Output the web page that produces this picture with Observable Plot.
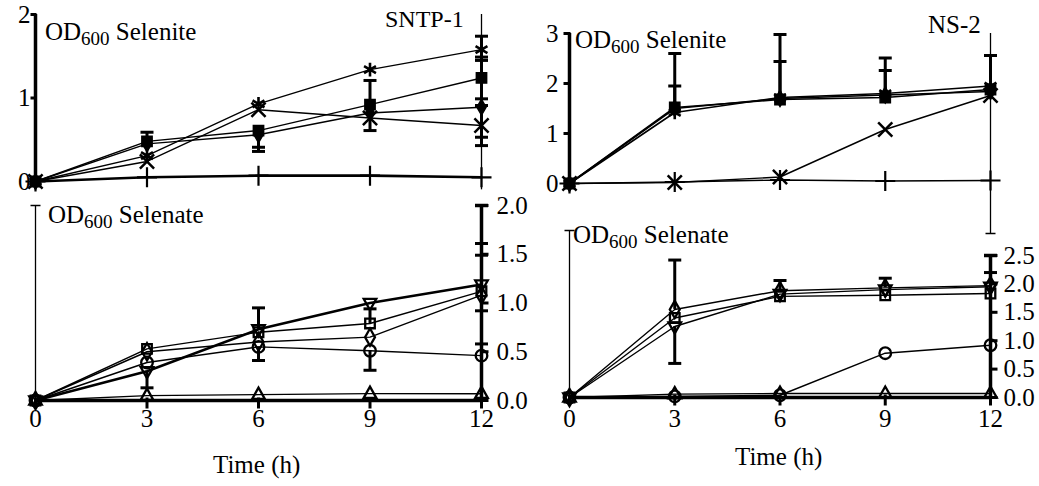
<!DOCTYPE html>
<html><head><meta charset="utf-8">
<script src="https://cdn.jsdelivr.net/npm/d3@7"></script>
<script src="https://cdn.jsdelivr.net/npm/@observablehq/plot@0.6"></script>
<style>
html,body{margin:0;padding:0;background:#fff;}
#wrap{position:relative;width:1039px;height:486px;overflow:hidden;font-family:'Liberation Serif','Times New Roman',serif;color:#000;background:#fff;}
#wrap svg{position:absolute;left:0;top:0;}
.lbl{position:absolute;font-size:25px;line-height:1;white-space:nowrap;}
.lbl sub{font-size:19px;vertical-align:baseline;position:relative;top:5px;}
</style></head><body>
<div id="wrap">
  <div class="lbl" style="left:45px;top:19px">OD<sub>600</sub> Selenite</div>
  <div class="lbl" style="left:48px;top:202px">OD<sub>600</sub> Selenate</div>
  <div class="lbl" style="left:575px;top:27px">OD<sub>600</sub> Selenite</div>
  <div class="lbl" style="left:573px;top:222px">OD<sub>600</sub> Selenate</div>
  <div class="lbl" style="left:385px;top:7px;font-size:24px">SNTP-1</div>
  <div class="lbl" style="left:928px;top:12px">NS-2</div>
  <div class="lbl" style="left:213px;top:452px">Time (h)</div>
  <div class="lbl" style="left:735px;top:444px">Time (h)</div>
</div>
<script>
// ---------- data ----------
const time = [0, 3, 6, 9, 12];
const xTickLabels = ["0", "3", "6", "9", "12"];

// SNTP-1, selenite
const sntpSeleniteAsterisk = [0, 0.31, 0.93, 1.34, 1.58];
const sntpSeleniteSquare   = [0, 0.48, 0.61, 0.92, 1.24];
const sntpSeleniteTimes    = [0, 0.24, 0.86, 0.76, 0.67];
const sntpSeleniteDiamond  = [0, 0.45, 0.56, 0.82, 0.89];
const sntpSelenitePlus     = [0, 0.05, 0.07, 0.07, 0.05];
// error bars: [time, from, to] (cap at "to")
const sntpSeleniteBars = [[3,0.48,0.59],[6,0.61,0.41],[6,0.56,0.36],[9,0.92,1.21],[9,0.76,0.61],
  [12,1.58,1.74],[12,1.58,1.45],[12,1.24,1.49],[12,1.24,0.99],[12,0.67,0.91],[12,0.89,0.53],[12,0.67,0.43]];
const sntpSeleniteThin = [[12, -0.1, 2.0]];
const sntpSeleniteYTicks = [0, 1, 2];
const sntpSeleniteYLabels = ["0", "1", "2"];

// SNTP-1, selenate
const sntpSelenateDownTri = [0, 0.30, 0.73, 1.00, 1.19];
const sntpSelenateSquare  = [0, 0.53, 0.70, 0.79, 1.12];
const sntpSelenateDiamond = [0, 0.50, 0.60, 0.65, 1.08];
const sntpSelenateCircle  = [0, 0.39, 0.55, 0.51, 0.46];
const sntpSelenateUpTri   = [0, 0.05, 0.06, 0.07, 0.07];
const sntpSelenateBars = [[3,0.30,0.13],[6,0.73,0.95],[6,0.55,0.41],[9,0.79,0.94],[9,0.51,0.31],
  [12,1.19,1.61],[12,1.12,1.49],[12,1.08,0.92],[12,0.46,0.58]];
const sntpSelenateThin = [[0, 0, 2.0]];
const sntpSelenateYTicks = [0, 0.5, 1, 1.5, 2];
const sntpSelenateYLabels = ["0.0", "0.5", "1.0", "1.5", "2.0"];

// NS-2, selenite
const nsSeleniteSquare   = [0, 1.52, 1.68, 1.72, 1.88];
const nsSeleniteAsterisk = [0, 1.42, 1.72, 1.80, 1.95];
const nsSeleniteDiamond  = [0, 1.50, 1.70, 1.77, 1.84];
const nsSeleniteTimes    = [0, 0.02, 0.13, 1.08, 1.76];
const nsSelenitePlus     = [0, 0.03, 0.07, 0.05, 0.06];
const nsSeleniteBars = [[3,1.52,2.60],[3,1.42,1.95],[6,1.72,2.98],[6,1.68,2.44],[9,1.80,2.51],[9,1.72,2.26],[12,1.95,2.56]];
const nsSeleniteThin = [[12, 3.0, -1.0]];
const nsSeleniteYTicks = [0, 1, 2, 3];
const nsSeleniteYLabels = ["0", "1", "2", "3"];

// NS-2, selenate
const nsSelenateDiamond = [0, 1.55, 1.88, 1.93, 1.97];
const nsSelenateSquare  = [0, 1.40, 1.78, 1.80, 1.83];
const nsSelenateDownTri = [0, 1.25, 1.82, 1.90, 1.95];
const nsSelenateCircle  = [0, 0.02, 0.04, 0.78, 0.92];
const nsSelenateUpTri   = [0, 0.06, 0.07, 0.07, 0.07];
const nsSelenateBars = [[3,1.55,2.42],[3,1.25,0.60],[6,1.88,2.06],[9,1.93,2.10],[12,1.97,2.20]];
const nsSelenateThin = [[0, 0, 2.94]];
const nsSelenateYTicks = [0, 0.5, 1, 1.5, 2, 2.5];
const nsSelenateYLabels = ["0.0", "0.5", "1.0", "1.5", "2.0", "2.5"];

// ---------- symbols ----------
const sym = f => ({draw(c, size) { const r = Math.sqrt(size / Math.PI); f(c, r); }});
const capSym = sym((c, r) => { c.moveTo(-r, 0); c.lineTo(r, 0); });
const tickLeftSym = sym((c, r) => { c.moveTo(1, 0); c.lineTo(-r, 0); });
const tickRightSym = sym((c, r) => { c.moveTo(-1, 0); c.lineTo(r, 0); });
const tickDownSym = sym((c, r) => { c.moveTo(0, -3); c.lineTo(0, r); });
const downTriSym = sym((c, r) => { c.moveTo(0, r); c.lineTo(-r * 0.9, -r * 0.6); c.lineTo(r * 0.9, -r * 0.6); c.closePath(); });
const upTriSym = sym((c, r) => { c.moveTo(0, -r); c.lineTo(-r * 0.9, r * 0.6); c.lineTo(r * 0.9, r * 0.6); c.closePath(); });

const markerStyle = {
  asterisk: {symbol: "asterisk", r: 6.5, stroke: "black", strokeWidth: 2.6, fill: "none"},
  squareFilled: {symbol: "square", r: 5.8, fill: "black", stroke: "black"},
  times: {symbol: "times", r: 6.5, stroke: "black", strokeWidth: 2.5, fill: "none"},
  diamondFilled: {symbol: "diamond", r: 4.8, fill: "black", stroke: "black"},
  plus: {symbol: "plus", r: 6.5, stroke: "black", strokeWidth: 2.2, fill: "none"},
  squareOpen: {symbol: "square", r: 5.4, fill: "none", stroke: "black", strokeWidth: 2.3},
  diamondOpen: {symbol: "diamond", r: 5.2, fill: "none", stroke: "black", strokeWidth: 2.3},
  circleOpen: {symbol: "circle", r: 5.8, fill: "none", stroke: "black", strokeWidth: 2.3},
  downTri: {symbol: downTriSym, r: 7, fill: "none", stroke: "black", strokeWidth: 2.3},
  upTri: {symbol: upTriSym, r: 7, fill: "none", stroke: "black", strokeWidth: 2.3}
};

const FONT = "'Liberation Serif','Times New Roman',serif";

function panel(cfg) {
  const marks = [];
  if (cfg.yAxis === "left") {
    marks.push(Plot.ruleX([0], {y1: cfg.yDomain[0], y2: cfg.yDomain[1], stroke: "black", strokeWidth: 3.5}));
    marks.push(Plot.dot(cfg.yTicks, {x: () => 0, y: d => d, symbol: tickLeftSym, r: cfg.tickLen, stroke: "black", strokeWidth: 3, fill: "none"}));
    marks.push(Plot.text(cfg.yTicks, {x: () => 0, y: d => d, text: (d, i) => cfg.yLabels[i], textAnchor: "end", dx: cfg.labelDx, fontSize: 25, fontFamily: FONT, fill: "black"}));
  } else {
    marks.push(Plot.ruleX([12], {y1: cfg.yDomain[0], y2: cfg.yDomain[1], stroke: "black", strokeWidth: 3.5}));
    marks.push(Plot.dot(cfg.yTicks, {x: () => 12, y: d => d, symbol: tickRightSym, r: cfg.tickLen, stroke: "black", strokeWidth: 3, fill: "none"}));
    marks.push(Plot.dot([cfg.yDomain[1]], {x: () => 12, y: d => d, symbol: capSym, r: 6.5, stroke: "black", strokeWidth: 3.5, fill: "none"}));
    marks.push(Plot.text(cfg.yTicks, {x: () => 12, y: d => d, text: (d, i) => cfg.yLabels[i], textAnchor: "start", dx: cfg.labelDx, fontSize: 25, fontFamily: FONT, fill: "black"}));
  }
  if (cfg.xAxis) {
    marks.push(Plot.ruleY([0], {x1: time[0], x2: time[time.length - 1], stroke: "black", strokeWidth: 3.5}));
    marks.push(Plot.dot(time, {x: d => d, y: () => 0, symbol: tickDownSym, r: 8, stroke: "black", strokeWidth: 3, fill: "none"}));
    marks.push(Plot.text(time, {x: d => d, y: () => 0, text: (d, i) => xTickLabels[i], dy: cfg.xLabelDy, fontSize: 25, fontFamily: FONT, fill: "black"}));
  }
  marks.push(Plot.ruleX(cfg.thin, {x: d => d[0], y1: d => d[1], y2: d => d[2], stroke: "black", strokeWidth: 1.3}));
  if (cfg.thinCap) marks.push(Plot.dot(cfg.thin, {x: d => d[0], y: d => d[2], symbol: capSym, r: 5, stroke: "black", strokeWidth: 1.5, fill: "none"}));
  for (const s of cfg.series) {
    const rows = s.values.map((v, i) => ({t: time[i], v}));
    marks.push(Plot.line(rows, {x: "t", y: "v", stroke: "black", strokeWidth: s.lw || 1.4}));
  }
  marks.push(Plot.ruleX(cfg.bars, {x: d => d[0], y1: d => d[1], y2: d => d[2], stroke: "black", strokeWidth: 3}));
  marks.push(Plot.dot(cfg.bars, {x: d => d[0], y: d => d[2], symbol: capSym, r: 6.5, stroke: "black", strokeWidth: 3, fill: "none"}));
  for (const s of cfg.series) {
    const rows = s.values.map((v, i) => ({t: time[i], v}));
    marks.push(Plot.dot(rows, {x: "t", y: "v", ...markerStyle[s.marker]}));
  }
  return Plot.plot({
    width: 1039, height: 486,
    marginLeft: cfg.m[0], marginRight: cfg.m[1], marginTop: cfg.m[2], marginBottom: cfg.m[3],
    x: {domain: [0, 12], axis: null},
    y: {domain: cfg.yDomain, axis: null},
    style: {background: "transparent", overflow: "visible"},
    marks
  });
}

const wrap = document.getElementById("wrap");
const panels = [
  panel({
    m: [35, 558, 14, 305], yDomain: [0, 2], yAxis: "left", tickLen: 5, labelDx: -5,
    yTicks: sntpSeleniteYTicks, yLabels: sntpSeleniteYLabels, xAxis: false,
    thin: sntpSeleniteThin, thinCap: false, bars: sntpSeleniteBars,
    series: [
      {values: sntpSelenitePlus, marker: "plus", lw: 2.6},
      {values: sntpSeleniteDiamond, marker: "diamondFilled"},
      {values: sntpSeleniteTimes, marker: "times"},
      {values: sntpSeleniteSquare, marker: "squareFilled"},
      {values: sntpSeleniteAsterisk, marker: "asterisk"}
    ]
  }),
  panel({
    m: [35, 558, 205, 86], yDomain: [0, 2], yAxis: "right", tickLen: 7, labelDx: 15,
    yTicks: sntpSelenateYTicks, yLabels: sntpSelenateYLabels, xAxis: true, xLabelDy: 18,
    thin: sntpSelenateThin, thinCap: true, bars: sntpSelenateBars,
    series: [
      {values: sntpSelenateUpTri, marker: "upTri"},
      {values: sntpSelenateCircle, marker: "circleOpen"},
      {values: sntpSelenateDiamond, marker: "diamondOpen"},
      {values: sntpSelenateSquare, marker: "squareOpen"},
      {values: sntpSelenateDownTri, marker: "downTri", lw: 2.6}
    ]
  }),
  panel({
    m: [569, 49, 33, 303], yDomain: [0, 3], yAxis: "left", tickLen: 6, labelDx: -11,
    yTicks: nsSeleniteYTicks, yLabels: nsSeleniteYLabels, xAxis: false,
    thin: nsSeleniteThin, thinCap: true, bars: nsSeleniteBars,
    series: [
      {values: nsSelenitePlus, marker: "plus"},
      {values: nsSeleniteTimes, marker: "times"},
      {values: nsSeleniteDiamond, marker: "diamondFilled", lw: 1.6},
      {values: nsSeleniteAsterisk, marker: "asterisk", lw: 1.6},
      {values: nsSeleniteSquare, marker: "squareFilled", lw: 1.6}
    ]
  }),
  panel({
    m: [569, 49, 255, 89], yDomain: [0, 2.5], yAxis: "right", tickLen: 7, labelDx: 13,
    yTicks: nsSelenateYTicks, yLabels: nsSelenateYLabels, xAxis: true, xLabelDy: 21,
    thin: nsSelenateThin, thinCap: true, bars: nsSelenateBars,
    series: [
      {values: nsSelenateUpTri, marker: "upTri"},
      {values: nsSelenateCircle, marker: "circleOpen"},
      {values: nsSelenateDownTri, marker: "downTri"},
      {values: nsSelenateSquare, marker: "squareOpen"},
      {values: nsSelenateDiamond, marker: "diamondOpen"}
    ]
  })
];
for (const p of panels) wrap.insertBefore(p, wrap.firstChild);
</script>
</body></html>
